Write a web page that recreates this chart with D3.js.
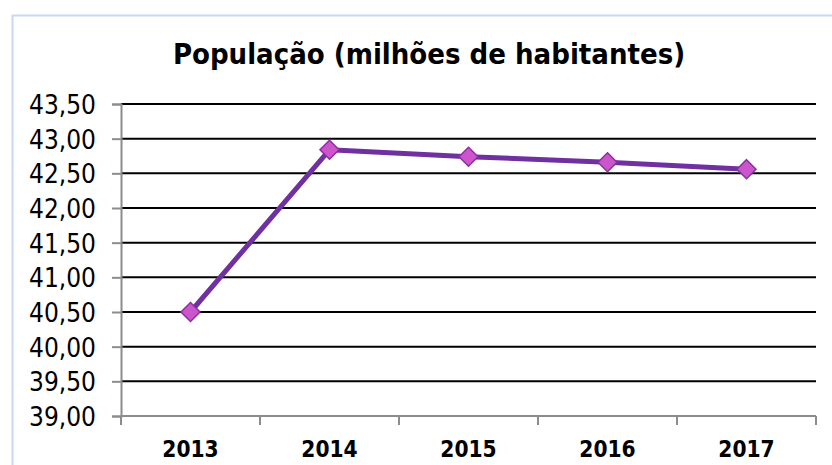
<!DOCTYPE html>
<html><head><meta charset="utf-8">
<script src="https://cdn.jsdelivr.net/npm/d3@7/dist/d3.min.js"></script>
<style>body{margin:0;background:#fff}</style>
</head><body><svg id="c" width="832" height="465"></svg>
<script>
const categories = ["2013","2014","2015","2016","2017"];
const values = [40.50, 42.84, 42.74, 42.66, 42.56];
const yTicks = [39.0,39.5,40.0,40.5,41.0,41.5,42.0,42.5,43.0,43.5];
const title = "População (milhões de habitantes)";

const FONT = "'DejaVu Sans Condensed', 'DejaVu Sans', sans-serif";
const svg = d3.select("#c");
svg.append("rect").attr("x",12.5).attr("y",15.5).attr("width",840).attr("height",470)
  .attr("fill","#fff").attr("stroke","#c6d9f1").attr("stroke-width",2);

const L=121, R=816, T=104, B=416;
const x = d3.scaleBand().domain(categories).range([L,R]);
const y = d3.scaleLinear().domain([39,43.5]).range([B,T]);

svg.append("text").attr("x",429).attr("y",64).attr("text-anchor","middle")
  .attr("font-family",FONT).attr("font-weight","bold").attr("font-size",29)
  .text(title);

// gridlines
svg.append("g").selectAll("line").data(yTicks.filter(d=>d>39)).join("line")
  .attr("x1",L).attr("x2",R).attr("y1",d=>y(d)).attr("y2",d=>y(d))
  .attr("stroke","#000").attr("stroke-width",2);

const fmt = d => d3.format(".2f")(d).replace(".",",");
const yAxis = svg.append("g").attr("transform",`translate(${L},0)`)
  .call(d3.axisLeft(y).tickValues(yTicks).tickFormat(fmt).tickSize(9).tickPadding(16));
yAxis.select(".domain").attr("stroke","#8c8c8c").attr("stroke-width",2);
yAxis.selectAll(".tick line").attr("stroke","#8c8c8c").attr("stroke-width",2);
yAxis.selectAll("text").attr("font-family",FONT).attr("font-size",26).attr("fill","#000")
  .attr("dy","0.37em");

const xAxis = svg.append("g").attr("transform",`translate(0,${B})`)
  .call(d3.axisBottom(x).tickSize(0).tickPadding(0));
xAxis.select(".domain").remove();
xAxis.selectAll("text").attr("font-family",FONT).attr("font-weight","bold").attr("font-size",22.5).attr("fill","#000")
  .attr("y",41).attr("dy",0);
svg.append("line").attr("x1",L).attr("x2",R).attr("y1",B).attr("y2",B).attr("stroke","#8c8c8c").attr("stroke-width",2);
const bounds = categories.map(c=>x(c)).concat([R]);
svg.append("g").selectAll("line").data(bounds).join("line")
  .attr("x1",d=>d).attr("x2",d=>d).attr("y1",B).attr("y2",B+9)
  .attr("stroke","#8c8c8c").attr("stroke-width",2);

const data = categories.map((c,i)=>({c,v:values[i]}));
const cx = d=>x(d.c)+x.bandwidth()/2;
svg.append("path").datum(data)
  .attr("d",d3.line().x(cx).y(d=>y(d.v)))
  .attr("fill","none").attr("stroke","#7030a0").attr("stroke-width",5).attr("stroke-linejoin","round");
svg.append("g").selectAll("path").data(data).join("path")
  .attr("transform",d=>`translate(${cx(d)},${y(d.v)})`)
  .attr("d","M0,-9.5L9.5,0L0,9.5L-9.5,0Z")
  .attr("fill","#cc55cc").attr("stroke","#8a2ea0").attr("stroke-width",1.5);
</script></body></html>
